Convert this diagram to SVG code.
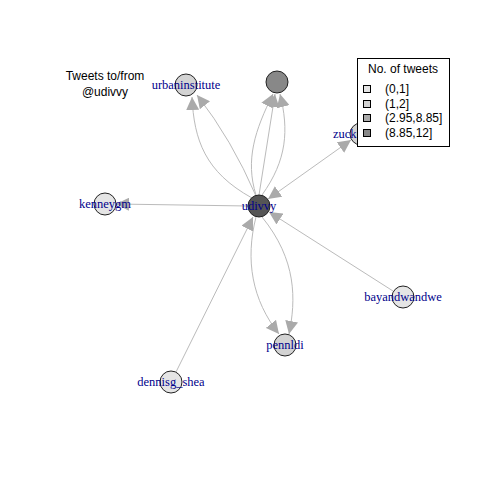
<svg xmlns="http://www.w3.org/2000/svg" width="480" height="480" viewBox="0 0 480 480">
<style>
.e{fill:none;stroke:#bbbbbb;stroke-width:1}
.n{stroke:#222;stroke-width:1}
.lb{font-family:"Liberation Serif",serif;font-size:12.5px;fill:#00008B;text-anchor:middle}
.t{font-family:"Liberation Sans",Arial,sans-serif;font-size:12px;fill:#000}
</style>
<defs>
<marker id="ar" markerUnits="userSpaceOnUse" markerWidth="13" markerHeight="13" viewBox="0 0 13 13" refX="13" refY="6.5" orient="auto">
<path d="M0,0 L13,6.5 L0,13 z" fill="#aaaaaa"/>
</marker>
<marker id="as" markerUnits="userSpaceOnUse" markerWidth="13" markerHeight="13" viewBox="0 0 13 13" refX="0" refY="6.5" orient="auto">
<path d="M13,0 L0,6.5 L13,13 z" fill="#aaaaaa"/>
</marker>
</defs>
<rect width="480" height="480" fill="#fff"/>
<g id="edges">
<path class="e" d="M252,198 C205,172 194,140 192,97" marker-end="url(#ar)"/>
<path class="e" d="M256,196 Q232,140 197,95" marker-end="url(#ar)"/>
<path class="e" d="M256,195 C245,160 255,130 273,94" marker-end="url(#ar)"/>
<path class="e" d="M259,195 L275,94" marker-end="url(#ar)"/>
<path class="e" d="M262,195 C287,160 289,130 280,94" marker-end="url(#ar)"/>
<path class="e" d="M268,199 L351,140" marker-start="url(#as)" marker-end="url(#ar)"/>
<path class="e" d="M248,206 L116,204" marker-end="url(#ar)"/>
<path class="e" d="M393,291 L269,212" marker-end="url(#ar)"/>
<path class="e" d="M256,217 C245,260 252,300 279,334" marker-end="url(#ar)"/>
<path class="e" d="M262,217 C297,260 296,300 289,334" marker-end="url(#ar)"/>
<path class="e" d="M176,372 L253,217" marker-end="url(#ar)"/>
</g>
<g id="udivvy"><circle class="n" cx="259" cy="206" r="11" fill="#555555"/><text class="lb" x="259" y="210">udivvy</text></g>
<g id="urbaninstitute"><circle class="n" cx="186" cy="85" r="11" fill="#d3d3d3"/><text class="lb" x="186" y="89">urbaninstitute</text></g>
<g id="topnode"><circle class="n" cx="277" cy="82" r="11" fill="#888888"/></g>
<g id="zuck"><circle class="n" cx="361" cy="134" r="11" fill="#d3d3d3"/><text class="lb" x="333" y="138" style="text-anchor:start">zuck</text></g>
<g id="kenneygm"><circle class="n" cx="105" cy="204" r="11" fill="#e5e5e5"/><text class="lb" x="105" y="208">kenneygm</text></g>
<g id="bayandwandwe"><circle class="n" cx="403" cy="297" r="11" fill="#e5e5e5"/><text class="lb" x="403" y="301">bayandwandwe</text></g>
<g id="pennldi"><circle class="n" cx="285" cy="345" r="11" fill="#d3d3d3"/><text class="lb" x="285" y="349">pennldi</text></g>
<g id="dennisg_shea"><circle class="n" cx="171" cy="382" r="11" fill="#e5e5e5"/><text class="lb" x="171" y="386">dennisg_shea</text></g>
<g id="title">
<text class="t" x="105" y="80" text-anchor="middle">Tweets to/from</text>
<text class="t" x="105" y="96" text-anchor="middle">@udivvy</text>
</g>
<g id="legend">
<rect x="357.5" y="58.5" width="92" height="88" fill="#fff" stroke="#000" stroke-width="1"/>
<text class="t" x="403" y="73" text-anchor="middle">No. of tweets</text>
<rect x="363.5" y="85.5" width="7" height="7" fill="#e5e5e5" stroke="#000"/>
<rect x="363.5" y="100.5" width="7" height="7" fill="#d3d3d3" stroke="#000"/>
<rect x="363.5" y="114.5" width="7" height="7" fill="#aaaaaa" stroke="#000"/>
<rect x="363.5" y="129.5" width="7" height="7" fill="#888888" stroke="#000"/>
<text class="t" x="385" y="93">(0,1]</text>
<text class="t" x="385" y="108">(1,2]</text>
<text class="t" x="385" y="122">(2.95,8.85]</text>
<text class="t" x="385" y="137">(8.85,12]</text>
</g>
</svg>
